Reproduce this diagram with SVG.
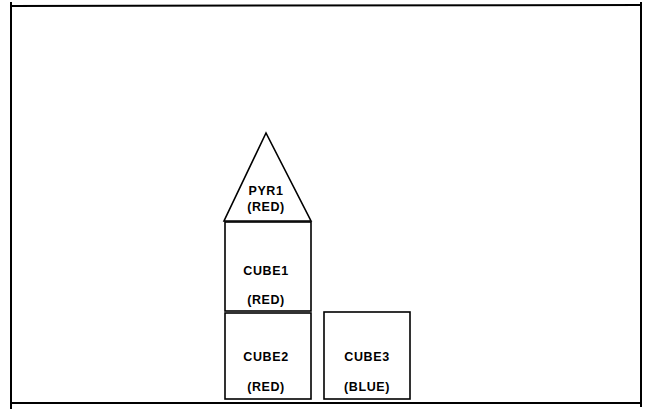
<svg xmlns="http://www.w3.org/2000/svg" width="649" height="410" viewBox="0 0 649 410">
<style>
.frame{fill:none;stroke:#000;stroke-width:2}
.obj{fill:#fff;stroke:#000;stroke-width:1.6}
.t{font-family:"Liberation Sans",Arial,sans-serif;font-size:12.5px;font-weight:bold;letter-spacing:0.6px;text-anchor:middle;fill:#000}
</style>
<rect width="649" height="410" fill="#fff"/>
<g id="frame">
<line class="frame" x1="11" y1="2" x2="11" y2="409"/>
<line class="frame" x1="10" y1="6" x2="642" y2="5"/>
<line class="frame" x1="641" y1="2" x2="641" y2="407"/>
<line class="frame" x1="10" y1="403" x2="642" y2="403"/>
</g>
<g id="connectors"></g>
<g id="pyr1">
<polygon class="obj" points="266,133 224,221 311,221"/>
<text class="t" x="266" y="195">PYR1</text>
<text class="t" x="266" y="211">(RED)</text>
</g>
<g id="cube1">
<rect class="obj" x="225" y="222" width="86" height="89"/>
<text class="t" x="266" y="275">CUBE1</text>
<text class="t" x="266" y="304">(RED)</text>
</g>
<g id="cube2">
<rect class="obj" x="225" y="313" width="86" height="86"/>
<text class="t" x="266" y="361">CUBE2</text>
<text class="t" x="266" y="391">(RED)</text>
</g>
<g id="cube3">
<rect class="obj" x="324" y="312" width="86" height="87"/>
<text class="t" x="367" y="361">CUBE3</text>
<text class="t" x="367" y="391">(BLUE)</text>
</g>
</svg>
